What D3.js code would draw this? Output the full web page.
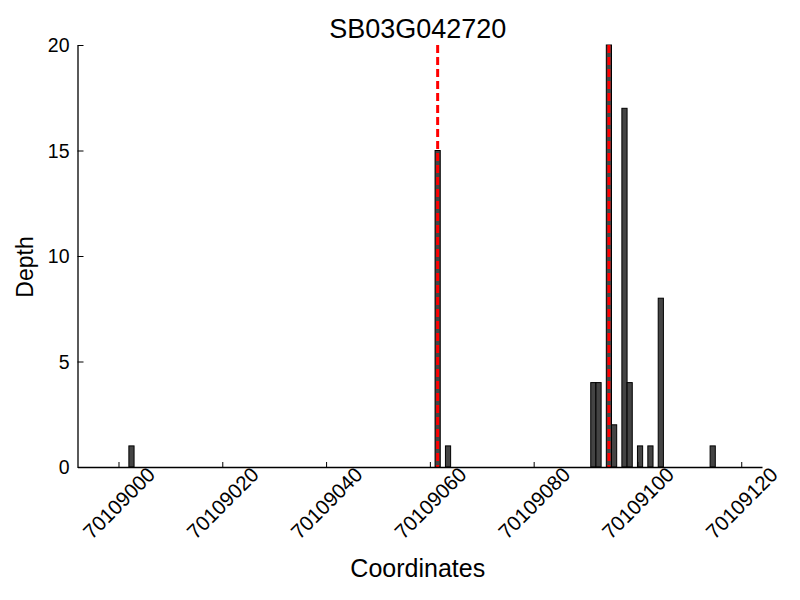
<!DOCTYPE html>
<html>
<head>
<meta charset="utf-8">
<script src="https://cdn.jsdelivr.net/npm/d3@7"></script>
<style>
body{margin:0;background:#fff;}
text{font-family:"Liberation Sans",Arial,sans-serif;fill:#000;}
</style>
</head>
<body>
<div id="plot"></div>
<script>
// data
var positions = [70109002,70109061,70109063,70109091,70109092,70109094,70109095,70109097,70109098,70109100,70109102,70109104,70109114];
var depths    = [1,15,1,4,4,20,2,17,4,1,1,8,1];
var markers   = [70109061,70109094];
var xTicks = [70109000,70109020,70109040,70109060,70109080,70109100,70109120];
var yTicks = [0,5,10,15,20];
var title = 'SB03G042720';

var margin = {t:45,r:38,b:133,l:77.5};
var W = 800, H = 600;
var width = W-margin.l-margin.r,
	height = H-margin.t-margin.b;

var svg = d3.select('#plot').append('svg')
	.attr('width',W).attr('height',H);

var plot = svg.append('g')
	.attr('transform','translate('+margin.l+','+margin.t+')');

var x = d3.scaleLinear().domain([70108992.1,70109124]).range([0,width]);
var y = d3.scaleLinear().domain([0,20]).range([height,0]);

// bars, left edge at the coordinate, width 1
plot.selectAll('rect.bar')
	.data(positions)
	.enter()
	.append('rect')
	.attr('class','bar')
	.attr('x',function(d){return x(d);})
	.attr('width',function(d){return x(d+1)-x(d);})
	.attr('y',function(d,i){return y(depths[i]);})
	.attr('height',function(d,i){return y(0)-y(depths[i]);})
	.style('fill','#444')
	.style('stroke','#000')
	.style('stroke-width',1);

// red dashed marker lines
plot.selectAll('line.marker')
	.data(markers)
	.enter()
	.append('line')
	.attr('x1',function(d){return x(d+0.5);})
	.attr('x2',function(d){return x(d+0.5);})
	.attr('y1',0).attr('y2',height)
	.style('stroke','red')
	.style('stroke-width',3)
	.style('stroke-dasharray','8,4');

// axes, ticks point inward
var xAxis = plot.append('g')
	.attr('transform','translate(0,'+height+')')
	.call(d3.axisBottom(x).tickValues(xTicks).tickSizeInner(-5).tickSizeOuter(0).tickFormat(''));
var yAxis = plot.append('g')
	.call(d3.axisLeft(y).tickValues(yTicks).tickSizeInner(-6).tickSizeOuter(0).tickFormat(''));
plot.selectAll('.domain').style('stroke','#000').style('stroke-width',1.3);
plot.selectAll('.tick line').style('stroke','#000');

// x tick labels rotated 45
xAxis.selectAll('.tick').append('text')
	.attr('transform','translate(0,36) rotate(-45)')
	.attr('text-anchor','middle')
	.attr('dy','0.35em')
	.style('font-size','20.5px')
	.text(function(d){return d;});

yAxis.selectAll('.tick').append('text')
	.attr('x',-8)
	.attr('text-anchor','end')
	.attr('dy','0.35em')
	.style('font-size','19.5px')
	.text(function(d){return d;});

svg.append('text')
	.attr('x',margin.l+width/2-2).attr('y',38)
	.attr('text-anchor','middle')
	.style('font-size','27px')
	.text(title);

svg.append('text')
	.attr('x',margin.l+width/2-2).attr('y',577)
	.attr('text-anchor','middle')
	.style('font-size','25px')
	.text('Coordinates');

svg.append('text')
	.attr('transform','translate(33,267) rotate(-90)')
	.attr('text-anchor','middle')
	.style('font-size','23px')
	.text('Depth');
</script>
</body>
</html>
